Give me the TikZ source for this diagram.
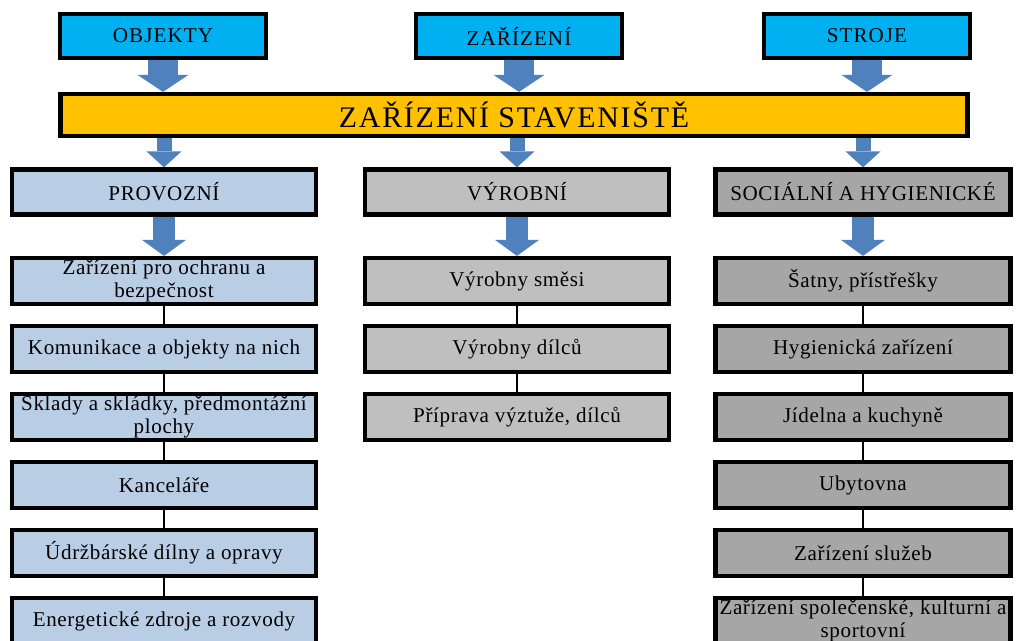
\documentclass[tikz,border=0pt]{standalone}
\usepackage{fontspec}
\setmainfont{Liberation Serif}
\usetikzlibrary{arrows.meta,backgrounds}

\definecolor{nebe}{HTML}{00B0F0}
\definecolor{zluta}{HTML}{FFC000}
\definecolor{modra}{HTML}{B9CDE5}
\definecolor{seda}{HTML}{BFBFBF}
\definecolor{tmavoseda}{HTML}{A6A6A6}
\definecolor{sipka}{HTML}{4F81BD}

\tikzset{
  box/.style={draw=black,line width=2.4pt,align=center,inner sep=0pt,font=\fontsize{12}{13.5}\selectfont\addfontfeature{LetterSpace=3}},
  topbox/.style={box,fill=nebe,minimum width=4.12cm,minimum height=0.88cm,font=\fontsize{12}{13.5}\selectfont\addfontfeature{LetterSpace=5}},
  mainbox/.style={box,fill=zluta,minimum width=18.14cm,minimum height=0.84cm,font=\fontsize{17}{19}\selectfont\addfontfeature{LetterSpace=6}},
  provbox/.style={box,fill=modra,minimum width=6.08cm,minimum height=0.9cm},
  vyrbox/.style={box,fill=seda,minimum width=6.08cm,minimum height=0.9cm},
  socbox/.style={box,fill=tmavoseda,minimum width=5.9cm,minimum height=0.9cm},
  itembox/.style={minimum height=0.92cm},
  bigarr/.style={draw=sipka,line width=0.6cm,-{Triangle[length=0.34cm,width=1.02cm,line width=0pt]}},
  smallarr/.style={draw=sipka,line width=0.3cm,-{Triangle[length=0.32cm,width=0.7cm,line width=0pt]}},
  downarr/.style={draw=sipka,line width=0.44cm,-{Triangle[length=0.32cm,width=0.88cm,line width=0pt]}},
  spoj/.style={draw=black,line width=0.9pt}
}

\begin{document}
\begin{tikzpicture}[x=0.02cm,y=-0.02cm]
    \useasboundingbox (0,0) rectangle (1016,641);

    % horni rada
    \node[topbox](objekty) at (163,36){OBJEKTY};
    \node[topbox](zarizeni) at (519,36){ZAŘÍZENÍ};
    \node[topbox](stroje) at (867,36){STROJE};

    \node[mainbox](hlavni) at (514,115){ZAŘÍZENÍ STAVENIŠTĚ};

    % druha rada
    \node[provbox](provozni) at (164,192){PROVOZNÍ};
    \node[vyrbox](vyrobni) at (517,192){VÝROBNÍ};
    \node[socbox](socialni) at (863,192){SOCIÁLNÍ A HYGIENICKÉ};

    % provozni
    \node[provbox,itembox](p1) at (164,281){Zařízení pro ochranu a\\bezpečnost};
    \node[provbox,itembox](p2) at (164,349){Komunikace a objekty na nich};
    \node[provbox,itembox](p3) at (164,417){Sklady a skládky, předmontážní\\plochy};
    \node[provbox,itembox](p4) at (164,485){Kanceláře};
    \node[provbox,itembox](p5) at (164,553){Údržbárské dílny a opravy};
    \node[provbox,itembox](p6) at (164,621){Energetické zdroje a rozvody};

    % vyrobni
    \node[vyrbox,itembox](v1) at (517,281){Výrobny směsi};
    \node[vyrbox,itembox](v2) at (517,349){Výrobny dílců};
    \node[vyrbox,itembox](v3) at (517,417){Příprava výztuže, dílců};

    % socialni
    \node[socbox,itembox](s1) at (863,281){Šatny, přístřešky};
    \node[socbox,itembox](s2) at (863,349){Hygienická zařízení};
    \node[socbox,itembox](s3) at (863,417){Jídelna a kuchyně};
    \node[socbox,itembox](s4) at (863,485){Ubytovna};
    \node[socbox,itembox](s5) at (863,553){Zařízení služeb};
    \node[socbox,itembox](s6) at (863,621){Zařízení společenské, kulturní a\\sportovní};

    \begin{scope}[on background layer]
    \draw[bigarr](objekty.south)--(objekty.south|-hlavni.north);
    \draw[bigarr](zarizeni.south)--(zarizeni.south|-hlavni.north);
    \draw[bigarr](stroje.south)--(stroje.south|-hlavni.north);

    \draw[smallarr](provozni.north|-hlavni.south)--(provozni.north);
    \draw[smallarr](vyrobni.north|-hlavni.south)--(vyrobni.north);
    \draw[smallarr](socialni.north|-hlavni.south)--(socialni.north);

    \draw[downarr](provozni.south)--(p1.north);
    \draw[downarr](vyrobni.south)--(v1.north);
    \draw[downarr](socialni.south)--(s1.north);

    \draw[spoj](p1)--(p2);
    \draw[spoj](p2)--(p3);
    \draw[spoj](p3)--(p4);
    \draw[spoj](p4)--(p5);
    \draw[spoj](p5)--(p6);
    \draw[spoj](v1)--(v2);
    \draw[spoj](v2)--(v3);
    \draw[spoj](s1)--(s2);
    \draw[spoj](s2)--(s3);
    \draw[spoj](s3)--(s4);
    \draw[spoj](s4)--(s5);
    \draw[spoj](s5)--(s6);
    \end{scope}

\end{tikzpicture}
\end{document}
